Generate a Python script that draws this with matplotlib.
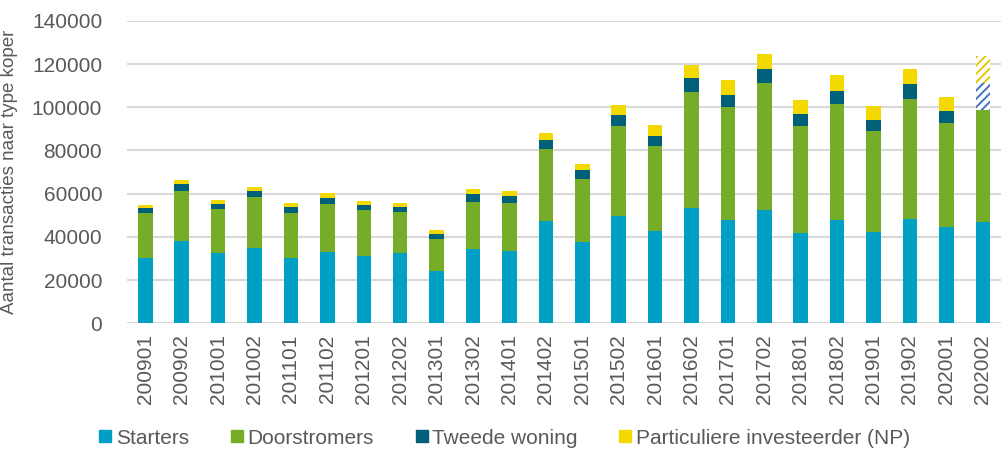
import matplotlib.pyplot as plt
import numpy as np
from matplotlib.lines import Line2D

plt.rcParams['font.family'] = ['Liberation Sans', 'DejaVu Sans']

periods = ['200901', '200902', '201001', '201002', '201101', '201102', '201201', '201202',
           '201301', '201302', '201401', '201402', '201501', '201502', '201601', '201602',
           '201701', '201702', '201801', '201802', '201901', '201902', '202001', '202002']
starters = [30100, 38300, 32400, 35000, 30100, 33000, 31300, 32700,
            24200, 34600, 33300, 47400, 37500, 49500, 42600, 53200,
            47700, 52300, 42000, 47700, 42100, 48150, 44450, 46750]
doorstromers = [20900, 23000, 20500, 23500, 21100, 22250, 21000, 18850,
                15000, 21700, 22400, 33150, 29500, 42000, 39300, 54000,
                52600, 58800, 49350, 53800, 46800, 55850, 48450, 52150]
tweede = [2200, 3200, 2500, 2750, 2650, 2750, 2500, 2150,
          2300, 3400, 3400, 4350, 4000, 4900, 4700, 6400,
          5550, 6500, 5400, 5900, 5400, 6800, 5550, 12500]
particulier = [1500, 1700, 1700, 1750, 1700, 2200, 1800, 2150,
               1700, 2500, 2150, 3200, 2900, 4700, 5050, 6100,
               6800, 7200, 6750, 7700, 6300, 6900, 6150, 12500]

c_start = '#00A0C4'
c_door = '#76AD28'
c_tweede = '#00607A'
c_part = '#F2DA00'
grey = '#595959'

fig = plt.figure(figsize=(10.01, 4.54), dpi=100)
ax = fig.add_axes([0.127, 0.288, 0.873, 0.666])

x = np.arange(len(periods))
w = 0.4
s = np.array(starters)
d = np.array(doorstromers)
t = np.array(tweede)
p = np.array(particulier)

ax.bar(x, s, w, color=c_start, zorder=3)
ax.bar(x, d, w, bottom=s, color=c_door, zorder=3)
# laatste periode is een schatting: gearceerd
ax.bar(x[:-1], t[:-1], w, bottom=(s + d)[:-1], color=c_tweede, zorder=3)
ax.bar(x[:-1], p[:-1], w, bottom=(s + d + t)[:-1], color=c_part, zorder=3)
plt.rcParams['hatch.linewidth'] = 1.4
ax.bar(x[-1], t[-1], w, bottom=(s + d)[-1], facecolor='white', edgecolor='#4472C4',
       hatch='////', linewidth=0, zorder=3)
ax.bar(x[-1], p[-1], w, bottom=(s + d + t)[-1], facecolor='white', edgecolor='#E0C800',
       hatch='////', linewidth=0, zorder=3)

ax.set_xlim(-0.5, len(periods) - 0.5)
ax.set_ylim(0, 140000)
ax.set_yticks(range(0, 140001, 20000))
ax.grid(axis='y', color='#D9D9D9', linewidth=1.5, zorder=0)
ax.set_xticks(x)
ax.set_xticklabels(periods, rotation=90)
ax.tick_params(axis='both', length=0, labelsize=15, labelcolor=grey)
ax.tick_params(axis='y', pad=18)
ax.tick_params(axis='x', pad=8)
for sp in ax.spines.values():
    sp.set_visible(False)

ax.set_ylabel('Aantal transacties naar type koper', fontsize=13.5, color=grey, labelpad=10)

handles = [Line2D([], [], marker='s', linestyle='none', markersize=9, color=c)
           for c in [c_start, c_door, c_tweede, c_part]]
labels = ['Starters', 'Doorstromers', 'Tweede woning', 'Particuliere investeerder (NP)']
leg = fig.legend(handles, labels, loc='center', bbox_to_anchor=(0.504, 0.035), ncol=4,
                 frameon=False, fontsize=15, handlelength=0.6, handletextpad=0.2,
                 columnspacing=2.0, labelcolor=grey)

fig.savefig('out.png', dpi=100)
